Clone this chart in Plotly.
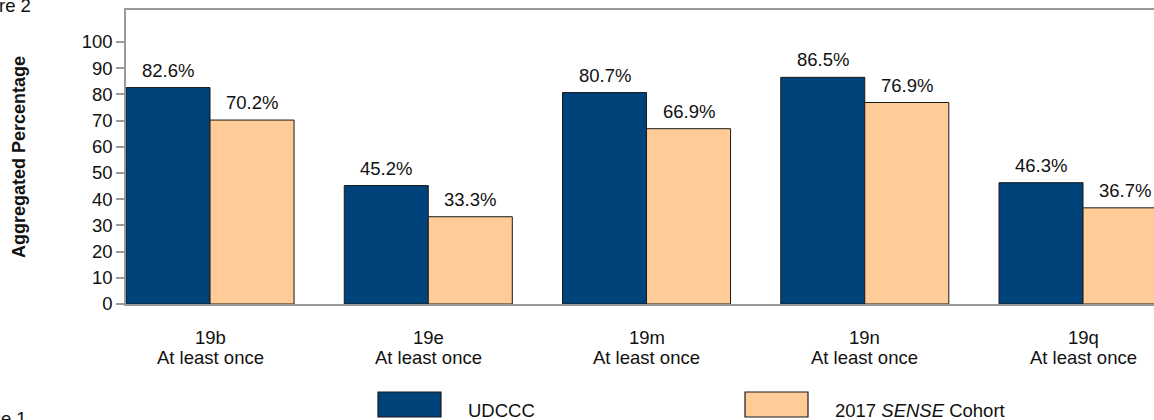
import plotly.graph_objects as go

codes = ["19b", "19e", "19m", "19n", "19q"]
sublabels = ["At least once", "At least once", "At least once", "At least once", "At least once"]
udccc = [82.6, 45.2, 80.7, 86.5, 46.3]
sense = [70.2, 33.3, 66.9, 76.9, 36.7]
series_names = ["UDCCC", "2017 <i>SENSE</i> Cohort"]
y_ticks = [0, 10, 20, 30, 40, 50, 60, 70, 80, 90, 100]

BLUE = "#00427A"
ORANGE = "#FFCB96"
EDGE = "#1a1a1a"
GRID = "#9a9a9a"
FONT = "Liberation Sans, Arial, sans-serif"
FS = 18.5
TXT = "#111111"

W, H = 1154, 420
ML, MR, MT, MB = 126, 0, 10, 116
BW = 0.385
STEP = 218.25

xs = list(range(len(codes)))

fig = go.Figure()
fig.add_trace(go.Bar(x=xs, y=udccc, width=BW, offset=-BW,
                     marker=dict(color=BLUE, line=dict(color=EDGE, width=1)),
                     name="UDCCC", showlegend=False, hoverinfo="y"))
fig.add_trace(go.Bar(x=xs, y=sense, width=BW, offset=0,
                     marker=dict(color=ORANGE, line=dict(color=EDGE, width=1)),
                     name="2017 SENSE Cohort", showlegend=False, hoverinfo="y"))

pw = W - ML - MR
ph = H - MT - MB


def px_x(p):
    return (p - ML) / pw


def px_y(p):
    return (H - MB - p) / ph


annotations = []
# value labels
for i, v in enumerate(udccc):
    annotations.append(dict(x=i - BW / 2, y=v, xref="x", yref="y", text=f"{v:.1f}%", showarrow=False,
                            yanchor="bottom", yshift=5, font=dict(size=FS, color=TXT)))
for i, v in enumerate(sense):
    annotations.append(dict(x=i + BW / 2, y=v, xref="x", yref="y", text=f"{v:.1f}%", showarrow=False,
                            yanchor="bottom", yshift=5, font=dict(size=FS, color=TXT)))

# category labels (two lines, tighter spacing than <br>)
for i, (c, s) in enumerate(zip(codes, sublabels)):
    annotations.append(dict(x=i, y=px_y(337), xref="x", yref="paper", text=c, showarrow=False,
                            xanchor="center", yanchor="middle", font=dict(size=FS, color=TXT)))
    annotations.append(dict(x=i, y=px_y(357), xref="x", yref="paper", text=s, showarrow=False,
                            xanchor="center", yanchor="middle", font=dict(size=FS, color=TXT)))

# axis title
annotations.append(dict(x=px_x(19), y=px_y(157), xref="paper", yref="paper", text="<b>Aggregated Percentage</b>",
                        textangle=-90, showarrow=False, xanchor="center", yanchor="middle",
                        font=dict(size=18, color=TXT)))
# cut-off captions at the page edges
annotations.append(dict(x=px_x(33), y=px_y(6), xref="paper", yref="paper", text="Figure 2", showarrow=False,
                        xanchor="right", yanchor="middle", font=dict(size=FS, color=TXT)))
annotations.append(dict(x=px_x(29), y=px_y(418), xref="paper", yref="paper", text="Table 1", showarrow=False,
                        xanchor="right", yanchor="middle", font=dict(size=FS, color=TXT)))

# legend
shapes = []
legend_boxes = [(378, 441, BLUE), (745, 808, ORANGE)]
for (x0, x1, c), name in zip(legend_boxes, series_names):
    shapes.append(dict(type="rect", xref="paper", yref="paper", x0=px_x(x0), x1=px_x(x1),
                       y0=px_y(417), y1=px_y(392), fillcolor=c, line=dict(color=EDGE, width=1.2)))
    annotations.append(dict(x=px_x(x1 + 25), y=px_y(410), xref="paper", yref="paper", text=name,
                            showarrow=False, xanchor="left", yanchor="middle", font=dict(size=FS, color=TXT)))

fig.update_layout(
    width=W, height=H,
    margin=dict(l=ML, r=MR, t=MT, b=MB, pad=0),
    paper_bgcolor="white", plot_bgcolor="white",
    font=dict(family=FONT, size=FS, color=TXT),
    barmode="overlay",
    annotations=annotations,
    shapes=shapes,
    xaxis=dict(range=[-BW, (W - ML) / STEP - BW], tickvals=xs, showticklabels=False,
               showline=True, mirror=True, linecolor=GRID, linewidth=1.5, showgrid=False, zeroline=False,
               ticks=""),
    yaxis=dict(range=[0, 112.2], tickvals=y_ticks, showline=True, linecolor=GRID, linewidth=1.5,
               showgrid=False, zeroline=False, ticks="outside", ticklen=8, tickcolor=GRID, tickwidth=1.5,
               tickfont=dict(size=FS, color=TXT)),
)

fig.write_html("out.html", config={"displayModeBar": False},
               post_script="document.body.style.margin='0';document.body.style.overflow='hidden';")
